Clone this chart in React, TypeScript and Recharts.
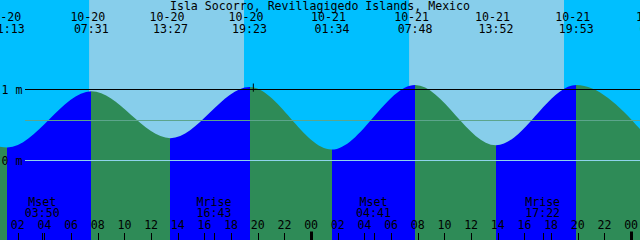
import React from 'react';
import { ComposedChart, Area, XAxis, YAxis, ReferenceArea, ReferenceLine } from 'recharts';

const TITLE = 'Isla Socorro, Revillagigedo Islands, Mexico';

// Tide extremes
const tideDays = ['10-19', '10-20', '10-20', '10-20', '10-20', '10-21', '10-21', '10-21', '10-21', '10-22'];
const tideTimes = ['18:50', '01:13', '07:31', '13:27', '19:23', '01:34', '07:48', '13:52', '19:53', '01:56'];
const tideLevels = [0.97, 0.17, 0.96, 0.3, 1.02, 0.14, 1.05, 0.2, 1.05, 0.15];

// Sun
const sunriseTimes = ['10-20 07:21', '10-21 07:21'];
const sunsetTimes = ['10-20 18:58', '10-21 18:58'];

// Moon
const moonKinds = ['Mset', 'Mrise', 'Mset', 'Mrise'];
const moonDays = ['10-20', '10-20', '10-21', '10-21'];
const moonTimes = ['03:50', '16:43', '04:41', '17:22'];

// Axis
const hourLabels = ['02', '04', '06', '08', '10', '12', '14', '16', '18', '20', '22', '00'];
const tickDays = ['10-20', '10-21'];
const datumLevels = [1, 0];
const datumLabels = ['1 m', '0 m'];
const MEAN_LEVEL = 0.55;
const MARK_TIME = '10-20 19:40';
const START_TIME = '10-20 00:40';
const SPAN_HOURS = 48;

const DAY_INDEX: Record<string, number> = { '10-19': -1, '10-20': 0, '10-21': 1, '10-22': 2 };
const toHours = (day: string, hm: string) => {
  const [h, m] = hm.split(':').map(Number);
  return DAY_INDEX[day] * 24 + h + m / 60;
};
const parseStamp = (s: string) => {
  const [d, hm] = s.split(' ');
  return toHours(d, hm);
};

const T0 = parseStamp(START_TIME);
const T1 = T0 + SPAN_HOURS;
const Y_DOMAIN: [number, number] = [-1.1338, 2.2465];

const NIGHT = '#00BFFF';
const DAY = '#87CEEB';
const FLOOD = '#0000FF';
const EBB = '#2E8B57';
const MEAN_COLOR = '#5ca58c';
const ZERO_COLOR = '#8fd3ec';
const FONT = 'DejaVu Sans Mono';
const FS = 11.6;

const tides = tideTimes.map((tm, i) => ({
  t: toHours(tideDays[i], tm),
  level: tideLevels[i],
  day: tideDays[i],
  time: tm,
}));

const moons = moonTimes.map((tm, i) => ({ t: toHours(moonDays[i], tm), kind: moonKinds[i], time: tm }));

const hourTicks: { t: number; label: string }[] = [];
tickDays.forEach((d) => {
  hourLabels.forEach((lab) => {
    const h = lab === '00' ? 24 : Number(lab);
    hourTicks.push({ t: DAY_INDEX[d] * 24 + h, label: lab });
  });
});

const clamp01 = (v: number) => Math.max(0, Math.min(1, v));
const off = (t: number) => clamp01((t - T0) / (T1 - T0));

const gradientStops: { offset: number; color: string }[] = [];
for (let i = 0; i < tides.length - 1; i++) {
  const color = tides[i + 1].level > tides[i].level ? FLOOD : EBB;
  gradientStops.push({ offset: off(tides[i].t), color });
  gradientStops.push({ offset: off(tides[i + 1].t), color });
}

const textProps = { fontFamily: FONT, fontSize: FS, fill: '#000', textAnchor: 'middle' as const };

const hourTickShape = (label: string) => (p: any) => {
  const bottom = Math.max(p.y1, p.y2);
  const thick = label === '00';
  const xr = Math.round(p.x1);
  return (
    <g>
      {thick ? (
        <rect x={xr - 1} y={bottom - 8.5} width={3} height={8.5} fill="#000" />
      ) : (
        <line x1={xr + 0.5} x2={xr + 0.5} y1={bottom - 7} y2={bottom} stroke="#000" strokeWidth={1} />
      )}
      <text x={p.x1} y={bottom - 10.7} {...textProps}>{label}</text>
    </g>
  );
};

const moonShape = (kind: string, time: string) => (p: any) => {
  const bottom = Math.max(p.y1, p.y2);
  const xr = Math.round(p.x1);
  return (
    <g>
      <line x1={xr + 0.5} x2={xr + 0.5} y1={bottom - 7} y2={bottom} stroke="#000" strokeWidth={1} />
      <text x={p.x1} y={bottom - 34.5} {...textProps}>{kind}</text>
      <text x={p.x1} y={bottom - 23} {...textProps}>{time}</text>
    </g>
  );
};

const tideLabelShape = (day: string, time: string) => (p: any) => {
  const top = Math.min(p.y1, p.y2);
  return (
    <g>
      <text x={p.x1 - 3.5} y={top + 21} {...textProps}>{day}</text>
      <text x={p.x1} y={top + 33} {...textProps}>{time}</text>
    </g>
  );
};

const lineShape = (color: string, label?: string) => (p: any) => {
  const yy = Math.round(p.y1) + 0.5;
  const left = Math.min(p.x1, p.x2);
  const right = Math.max(p.x1, p.x2);
  return (
    <g>
      <line x1={left + 25} y1={yy} x2={right} y2={yy} stroke={color} strokeWidth={1} />
      {label && (
        <text x={left + 1.5} y={yy + 4} fontFamily={FONT} fontSize={FS} fill="#000">
          {label}
        </text>
      )}
    </g>
  );
};

export default function App() {
  return (
    <div style={{ position: 'absolute', left: 0, top: 0, width: 640, height: 240, background: NIGHT }}>
      <ComposedChart width={640} height={240} data={tides} margin={{ top: 0, right: 0, bottom: 0, left: 0 }}>
        <defs>
          <linearGradient id="tideFill" gradientUnits="userSpaceOnUse" x1={0} y1={0} x2={640} y2={0}>
            {gradientStops.map((s, i) => (
              <stop key={i} offset={s.offset} stopColor={s.color} />
            ))}
          </linearGradient>
        </defs>
        <XAxis xAxisId="time" dataKey="t" type="number" domain={[T0, T1]} allowDataOverflow hide height={0} />
        <YAxis type="number" domain={Y_DOMAIN} allowDataOverflow hide width={0} />
        {sunriseTimes.map((sr, i) => (
          <ReferenceArea
            key={sr}
            xAxisId="time"
            x1={parseStamp(sr)}
            x2={parseStamp(sunsetTimes[i])}
            fill={DAY}
            fillOpacity={1}
            stroke="none"
            ifOverflow="hidden"
          />
        ))}
        <Area
          xAxisId="time"
          dataKey="level"
          type="monotone"
          baseValue={Y_DOMAIN[0]}
          fill="url(#tideFill)"
          fillOpacity={1}
          stroke="none"
          isAnimationActive={false}
          dot={false}
          activeDot={false}
        />
        <ReferenceLine xAxisId="time" y={0} stroke={ZERO_COLOR} shape={lineShape(ZERO_COLOR, datumLabels[1])} />
        <ReferenceLine xAxisId="time" y={MEAN_LEVEL} stroke={MEAN_COLOR} shape={lineShape(MEAN_COLOR)} />
        <ReferenceLine xAxisId="time" y={datumLevels[0]} stroke="#000" shape={lineShape('#000', datumLabels[0])} />
        <ReferenceLine
          xAxisId="time"
          segment={[
            { x: parseStamp(MARK_TIME), y: 1.07 },
            { x: parseStamp(MARK_TIME), y: 0.955 },
          ]}
          stroke="#000"
        />
        {hourTicks.map((h) => (
          <ReferenceLine
            key={'h' + h.t}
            xAxisId="time"
            x={h.t}
            stroke="#000"
            ifOverflow="visible"
            shape={hourTickShape(h.label)}
          />
        ))}
        {moons.map((m) => (
          <ReferenceLine
            key={'m' + m.t}
            xAxisId="time"
            x={m.t}
            stroke="#000"
            ifOverflow="visible"
            shape={moonShape(m.kind, m.time)}
          />
        ))}
        {tides.map((td) => (
          <ReferenceLine
            key={'t' + td.t}
            xAxisId="time"
            x={td.t}
            stroke="#000"
            ifOverflow="visible"
            shape={tideLabelShape(td.day, td.time)}
          />
        ))}
      </ComposedChart>
      <svg
        width={640}
        height={240}
        style={{ position: 'absolute', left: 0, top: 0, pointerEvents: 'none' }}
      >
        <text x={320} y={9.5} {...textProps}>
          {TITLE}
        </text>
      </svg>
    </div>
  );
}
